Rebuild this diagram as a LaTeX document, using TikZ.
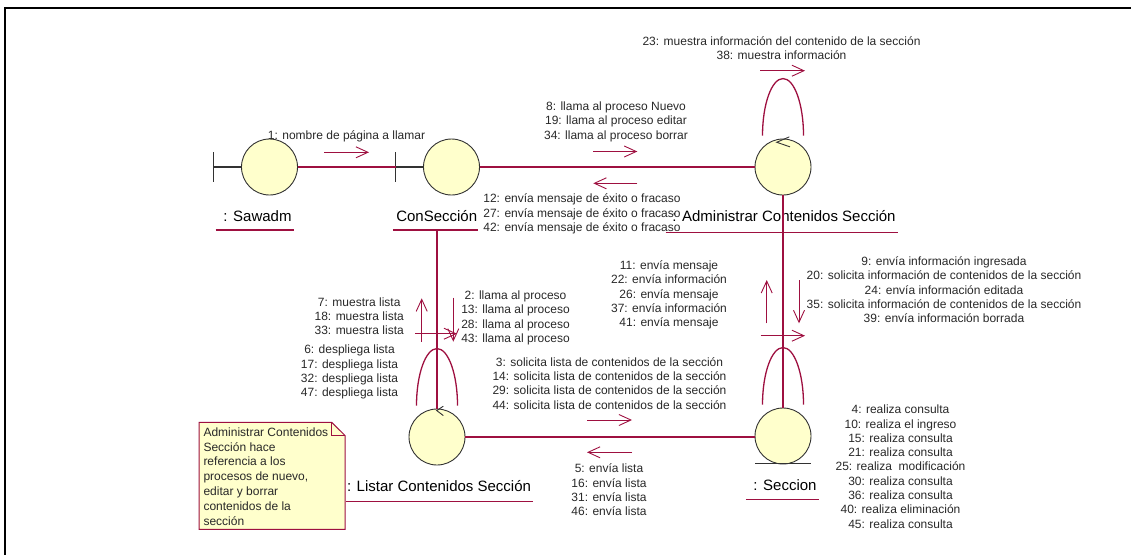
\documentclass[tikz,border=0pt]{standalone}
\usepackage{fontspec}
\setmainfont{Liberation Sans}
\usetikzlibrary{arrows.meta}
\definecolor{linkred}{RGB}{158,16,64}
\definecolor{objfill}{RGB}{255,255,204}
\definecolor{objline}{RGB}{50,50,50}
\definecolor{msgtext}{RGB}{40,40,40}

% self link drawn as an arch above an object
\newcommand\selfarch[1]{%
  \draw[link] ([shift={(-20.5,-3)}]#1.north)
    .. controls +(0,-31.5) and +(-11.3,0) .. ([shift={(0,-60)}]#1.north)
    .. controls +(11.3,0) and +(0,-31.5) .. ([shift={(20.5,-3)}]#1.north);}

\begin{document}
\begin{tikzpicture}[x=1pt,y=-1pt,
  link/.style={draw=linkred,line width=1.3pt},
  msg/.style={draw=linkred,line width=0.9pt,-{Straight Barb[length=12pt,width=11pt]}},
  obj/.style={circle,draw=objline,fill=objfill,line width=0.9pt,minimum size=56pt,inner sep=0pt},
  symline/.style={draw=objline,line width=1.3pt},
  ctrlmark/.style={draw=objline,line width=0.9pt},
  msglbl/.style={font=\fontsize{12}{14.3}\selectfont,text=msgtext,align=center,inner sep=0pt,anchor=north},
  objlbl/.style={font=\fontsize{15}{18}\selectfont,inner sep=0pt,anchor=base},
  uline/.style={draw=linkred,line width=1.1pt},
  frameline/.style={draw=black,line width=2pt}]

\useasboundingbox (0,0) rectangle (1131,555);
\draw[frameline] (1131,8) -- (5,8) -- (5,555);

% ---------- objects ----------
\node[obj] (saw) at (269.5,167) {};
\node[obj] (con) at (451.5,167) {};
\node[obj] (adm) at (783,167) {};
\node[obj] (lst) at (437,437) {};
\node[obj] (sec) at (783,436) {};

% boundary marks
\coordinate (sawtick) at ([xshift=-27.5pt]saw.west);
\draw[symline] (sawtick) -- (saw.west);
\draw[symline] ([yshift=15pt]sawtick) -- ([yshift=-15pt]sawtick);
\coordinate (contick) at ([xshift=-27.5pt]con.west);
\draw[symline] (contick) -- (con.west);
\draw[symline] ([yshift=15pt]contick) -- ([yshift=-15pt]contick);

% entity mark
\draw[symline] ([shift={(-28,-1)}]sec.south) -- ([shift={(28,-1)}]sec.south);

% control marks
\draw[ctrlmark] ([shift={(6.3,-1.7)}]adm.north) -- ([shift={(-6.3,3.7)}]adm.north) -- ([shift={(7,8.3)}]adm.north);
\draw[ctrlmark] ([shift={(6.3,-2.3)}]lst.north) -- ([shift={(-0.3,2)}]lst.north) -- ([shift={(6.3,7)}]lst.north);

% ---------- object labels ----------
\node[objlbl] (sawlbl) at (257.5,221.5) {: Sawadm};
\node[objlbl] (conlbl) at (436.7,221.5) {ConSección};
\node[objlbl] (admlbl) at (784,221.5) {: Administrar Contenidos Sección};
\node[objlbl] (lstlbl) at (439,491.5) {: Listar Contenidos Sección};
\node[objlbl] (seclbl) at (785,490) {: Seccion};
\draw[uline] ([shift={(-7.7,8.5)}]sawlbl.base west) -- ([shift={(2.7,8.5)}]sawlbl.base east);
\draw[uline] ([shift={(-3.3,8.5)}]conlbl.base west) -- ([shift={(0.7,8.5)}]conlbl.base east);
\draw[uline] ([shift={(-6.6,11.2)}]admlbl.base west) -- ([shift={(2.7,11.2)}]admlbl.base east);
\draw[uline] ([shift={(-1,10.2)}]lstlbl.base west) -- ([shift={(1.7,10.2)}]lstlbl.base east);
\draw[uline] ([shift={(-7.3,9.3)}]seclbl.base west) -- ([shift={(2,9.3)}]seclbl.base east);

% ---------- links ----------
\coordinate (conbase) at (437,231);
\draw[link] (saw.east) -- ([yshift=0pt]contick);
\draw[link] (con.east) -- (adm.west);
\draw[link] (conbase) -- (lst.north);
\draw[link] (lst.east) -- (lst.east -| sec.west);
\draw[link] (adm.south) -- (sec.north);
\selfarch{adm}
\selfarch{lst}
\selfarch{sec}

% ---------- messages ----------
\coordinate (m1a) at (324.3,152.3);  \coordinate (m1b) at (369,152.3);
\coordinate (m2a) at (593.3,151.5);  \coordinate (m2b) at (637.3,151.5);
\coordinate (m3a) at (637.3,183.3);  \coordinate (m3b) at (593.3,183.3);
\coordinate (m4a) at (760,70.7);     \coordinate (m4b) at (805,70.7);
\coordinate (m5a) at (453.3,297.7);  \coordinate (m5b) at (453.3,341.7);
\coordinate (m6a) at (421.7,341.7);  \coordinate (m6b) at (421.7,298.3);
\coordinate (m7a) at (415,333.7);    \coordinate (m7b) at (457,333.7);
\coordinate (m8a) at (587,420);      \coordinate (m8b) at (632,420);
\coordinate (m9a) at (632,452.3);    \coordinate (m9b) at (587,452.3);
\coordinate (m10a) at (766.7,323.3); \coordinate (m10b) at (766.7,280);
\coordinate (m11a) at (799,280);     \coordinate (m11b) at (799,323.3);
\coordinate (m12a) at (760.7,335.7); \coordinate (m12b) at (805,335.7);
\foreach \m in {m1,m2,m3,m4,m5,m6,m7,m8,m9,m10,m11,m12}
  \draw[msg] (\m a) -- (\m b);

% ---------- message labels ----------
\node[msglbl] (t1) at (346.5,130.5) {1: nombre de página a llamar};
\node[msglbl] (t2) at (616,101.5) {8: llama al proceso Nuevo\\19: llama al proceso editar\\34: llama al proceso borrar};
\node[msglbl] (t3) at (582,193.8) {12: envía mensaje de éxito o fracaso\\27: envía mensaje de éxito o fracaso\\42: envía mensaje de éxito o fracaso};
\node[msglbl] (t4) at (781.5,36.2) {23: muestra información del contenido de la sección\\38: muestra información};
\node[msglbl] (t5) at (515.5,290.5) {2: llama al proceso\\13: llama al proceso\\28: llama al proceso\\43: llama al proceso};
\node[msglbl] (t6) at (359.2,297.2) {7: muestra lista\\18: muestra lista\\33: muestra lista};
\node[msglbl] (t7) at (349.5,344.8) {6: despliega lista\\17: despliega lista\\32: despliega lista\\47: despliega lista};
\node[msglbl] (t8) at (609.5,357.2) {3: solicita lista de contenidos de la sección\\14: solicita lista de contenidos de la sección\\29: solicita lista de contenidos de la sección\\44: solicita lista de contenidos de la sección};
\node[msglbl] (t9) at (609,463.8) {5: envía lista\\16: envía lista\\31: envía lista\\46: envía lista};
\node[msglbl] (t10) at (669,260.5) {11: envía mensaje\\22: envía información\\26: envía mensaje\\37: envía información\\41: envía mensaje};
\node[msglbl] (t11) at (944,256.5) {9: envía información ingresada\\20: solicita información de contenidos de la sección\\24: envía información editada\\35: solicita información de contenidos de la sección\\39: envía información borrada};
\node[msglbl] (t12) at (900.5,404.8) {4: realiza consulta\\10: realiza el ingreso\\15: realiza consulta\\21: realiza consulta\\25: realiza\ \ modificación\\30: realiza consulta\\36: realiza consulta\\40: realiza eliminación\\45: realiza consulta};

% ---------- note ----------
\draw[draw=linkred,fill=objfill,line width=1pt]
  (199,422.3) -- (331.7,422.3) -- (345,435.5) -- (345,529.3) -- (199,529.3) -- cycle;
\draw[draw=linkred,line width=0.8pt] (331.7,422.3) -- (331.7,435.5) -- (345,435.5);
\node[anchor=north west,inner sep=0pt,align=left,text=msgtext,
      font=\fontsize{12}{14.9}\selectfont] (notetext) at (203.3,427.2)
  {Administrar Contenidos\\Sección hace\\referencia a los\\procesos de nuevo,\\editar y borrar\\contenidos de la\\sección};
\end{tikzpicture}
\end{document}
